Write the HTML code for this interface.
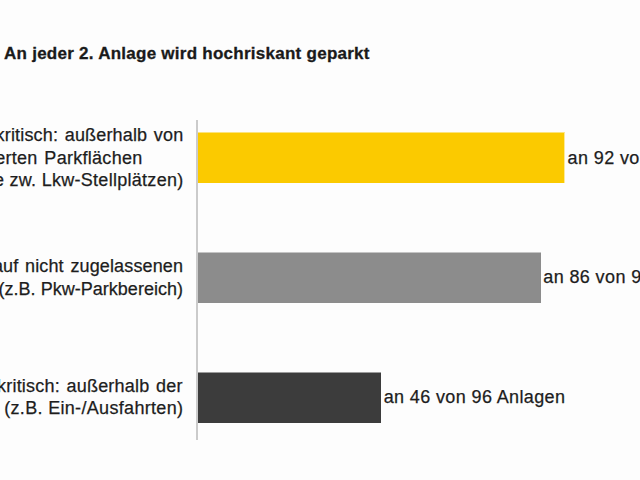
<!DOCTYPE html>
<html><head><meta charset="utf-8">
<style>
html,body{margin:0;padding:0;background:#fdfdfd;width:640px;height:480px;overflow:hidden;position:relative}
.t{position:absolute;white-space:nowrap;font-family:"Liberation Sans",sans-serif;color:#1d1d1d;-webkit-text-stroke:0.25px #1d1d1d;font-size:18px;line-height:22.5px;height:22.5px}
.title{font-weight:bold;font-size:17px;letter-spacing:0.26px;left:4px;top:44px;color:#1a1a1a;line-height:20px;-webkit-text-stroke:0.3px #1a1a1a}
.bar{position:absolute;left:198px;background-clip:padding-box}
.axis{position:absolute;left:196px;top:120px;width:2px;height:320px;background:#cbcbcb}
.val{letter-spacing:0.38px}
</style></head><body>
<div class="t title">An jeder 2. Anlage wird hochriskant geparkt</div>

<div class="axis"></div>
<div class="bar" style="top:132px;height:50px;width:366px;background-color:#fbca00;border-top:1px solid rgba(251,202,0,0.5);border-right:1px solid rgba(251,202,0,0.4)"></div>
<div class="bar" style="top:252px;height:50px;width:343px;background-color:#8c8c8c;border-top:1px solid rgba(140,140,140,0.5)"></div>
<div class="bar" style="top:372px;height:50px;width:183px;background-color:#3c3c3c;border-top:1px solid rgba(60,60,60,0.5)"></div>

<div class="t" style="left:-47.05px;top:123.8px;letter-spacing:0.16px;word-spacing:1.5px">Hochkritisch: außerhalb von</div>
<div class="t" style="left:-50.24px;top:146.8px;letter-spacing:0.28px;word-spacing:1.5px">markierten Parkflächen</div>
<div class="t" style="left:-126.99px;top:168.7px;letter-spacing:0.28px">(z.B. Fahrgasse zw. Lkw-Stellplätzen)</div>

<div class="t" style="left:-78.97px;top:254.7px;letter-spacing:0.14px;word-spacing:1.5px">Kritisch: auf nicht zugelassenen</div>
<div class="t" style="left:-70.66px;top:277.6px;letter-spacing:0.02px">Flächen (z.B. Pkw-Parkbereich)</div>

<div class="t" style="left:-26.39px;top:374.7px;letter-spacing:0.2px;word-spacing:1.5px">Unkritisch: außerhalb der</div>
<div class="t" style="left:4.22px;top:397.1px;letter-spacing:0.32px">(z.B. Ein-/Ausfahrten)</div>

<div class="t val" style="left:567.6px;top:146.8px">an 92 von 96 Anlagen</div>
<div class="t val" style="left:543.3px;top:265.5px">an 86 von 96 Anlagen</div>
<div class="t val" style="left:383.64px;top:385.8px">an 46 von 96 Anlagen</div>
</body></html>
